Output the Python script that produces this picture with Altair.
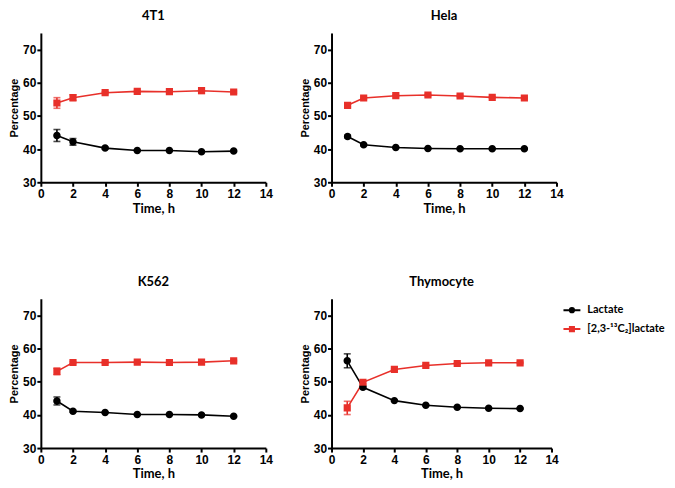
import altair as alt
import pandas as pd

times = [1, 2, 4, 6, 8, 10, 12]
cells = ["4T1", "Hela", "K562", "Thymocyte"]
series_names = ["Lactate", "[2,3-¹³C₂]lactate"]
series_colors = ["#000000", "#e8302a"]

lactate = {
    "4T1": [44.1, 42.2, 40.3, 39.6, 39.6, 39.2, 39.4],
    "Hela": [43.8, 41.3, 40.5, 40.2, 40.1, 40.1, 40.1],
    "K562": [44.2, 41.1, 40.7, 40.1, 40.1, 40.0, 39.6],
    "Thymocyte": [56.3, 48.3, 44.3, 42.9, 42.3, 42.0, 41.9],
}
lactate_err = {
    "4T1": [1.8, 1.0, 0.3, 0.2, 0.2, 0.2, 0.2],
    "Hela": [0.4, 0.3, 0.2, 0.2, 0.2, 0.2, 0.2],
    "K562": [1.2, 0.3, 0.2, 0.2, 0.2, 0.2, 0.2],
    "Thymocyte": [2.1, 0.3, 0.2, 0.2, 0.2, 0.2, 0.2],
}
labelled = {
    "4T1": [53.9, 55.5, 57.0, 57.4, 57.3, 57.6, 57.2],
    "Hela": [53.2, 55.4, 56.1, 56.3, 56.0, 55.6, 55.4],
    "K562": [53.1, 55.8, 55.8, 55.9, 55.8, 55.9, 56.3],
    "Thymocyte": [42.1, 49.8, 53.7, 54.9, 55.5, 55.7, 55.7],
}
labelled_err = {
    "4T1": [1.6, 0.9, 0.3, 0.3, 0.3, 0.8, 0.3],
    "Hela": [0.4, 0.3, 0.2, 0.2, 0.2, 0.2, 0.2],
    "K562": [1.0, 0.3, 0.2, 0.2, 0.2, 0.2, 0.2],
    "Thymocyte": [2.0, 0.5, 0.2, 0.2, 0.2, 0.2, 0.2],
}
x_ticks = [0, 2, 4, 6, 8, 10, 12, 14]
y_ticks = [30, 40, 50, 60, 70]

rows = []
for c in cells:
    for name, vals, errs in [(series_names[0], lactate[c], lactate_err[c]),
                             (series_names[1], labelled[c], labelled_err[c])]:
        for t, v, e in zip(times, vals, errs):
            rows.append({"cell": c, "series": name, "t": t, "v": v,
                         "lo": v - e, "hi": v + e})
df = pd.DataFrame(rows)

TICK_FONT = "Liberation Sans"
CAL_FONT = "Lato"

# marker glyphs with a short line segment (visible in the legend only, where it is stroked)
circle_path = "M-1,0H1M-0.25,0A0.25,0.25,0,1,1,0.25,0A0.25,0.25,0,1,1,-0.25,0Z"
square_path = "M-1,0H1M-0.24,-0.24H0.24V0.24H-0.24Z"

legend = alt.Legend(
    title=None, orient="right", offset=9, padding=2,
    labelFont=CAL_FONT, labelFontWeight="bold", labelFontSize=11, labelColor="black",
    symbolSize=289, symbolStrokeWidth=2, rowPadding=3, labelOffset=6,
)

xscale = alt.Scale(domain=[0, 14], nice=False, zero=False)
yscale = alt.Scale(domain=[30, 75], nice=False, zero=False)
cscale = alt.Scale(domain=series_names, range=series_colors)
kscale = alt.Scale(domain=series_names, range=series_colors)
sscale = alt.Scale(domain=series_names, range=[circle_path, square_path])

def axis_x():
    return alt.Axis(values=x_ticks, grid=False, title="Time, h", titleFont=CAL_FONT,
                    titleFontSize=13, titleFontWeight="bold", titleColor="black",
                    labelFont=TICK_FONT, labelFontSize=12, labelFontWeight="bold",
                    labelColor="black", domainColor="black", domainWidth=2,
                    tickColor="black", tickWidth=2, tickSize=4, labelPadding=2,
                    titlePadding=3, labelFlush=False)

def axis_y():
    return alt.Axis(values=y_ticks, grid=False, title="Percentage", titleFont=TICK_FONT,
                    titleFontSize=11, titleFontWeight="bold", titleColor="black",
                    labelFont=TICK_FONT, labelFontSize=12, labelFontWeight="bold",
                    labelColor="black", domainColor="black", domainWidth=2,
                    tickColor="black", tickWidth=2, tickSize=4, labelPadding=1,
                    titlePadding=3, labelFlush=False)

def panel(cell, w, h, show_legend):
    base = alt.Chart(df).transform_filter(alt.datum.cell == cell)
    x = alt.X("t:Q", scale=xscale, axis=axis_x())
    y = alt.Y("v:Q", scale=yscale, axis=axis_y())
    leg = legend if show_legend else None
    line = base.mark_line(strokeWidth=1.6).encode(
        x=x, y=y, color=alt.Color("series:N", scale=cscale, legend=leg), detail="series:N")
    pts = base.mark_point(filled=True, size=900, opacity=1, strokeWidth=2).encode(
        x=x, y=y,
        color=alt.Color("series:N", scale=cscale, legend=leg),
        stroke=alt.Stroke("series:N", scale=kscale, legend=leg),
        shape=alt.Shape("series:N", scale=sscale, legend=leg),
        strokeOpacity=alt.value(0),
    )
    err = base.mark_errorbar(ticks={"size": 7, "thickness": 1.6}, thickness=1.6).encode(
        x=x,
        y=alt.Y("lo:Q", scale=yscale, axis=axis_y(), title="Percentage"),
        y2="hi:Q",
        color=alt.Color("series:N", scale=cscale, legend=leg),
    )
    return alt.layer(line, pts, err).properties(
        width=w, height=h,
        title=alt.TitleParams(cell, font=CAL_FONT, fontSize=13, fontWeight="bold",
                              color="black", anchor="middle", offset=10),
    )

row1 = alt.hconcat(panel("4T1", 226, 150, False), panel("Hela", 226, 150, False), spacing=26)
row2 = alt.hconcat(panel("K562", 226, 150, False), panel("Thymocyte", 221, 150, True), spacing=26
                   ).resolve_legend(color="independent", stroke="independent", shape="independent")
chart = (alt.vconcat(row1, row2, spacing=61)
         .resolve_legend(color="independent", stroke="independent", shape="independent")
         .properties(padding={"left": 0, "top": 1, "right": 0, "bottom": 0})
         .configure_view(stroke=None))

chart.save("out.html", embed_options={"renderer": "svg", "actions": False})
